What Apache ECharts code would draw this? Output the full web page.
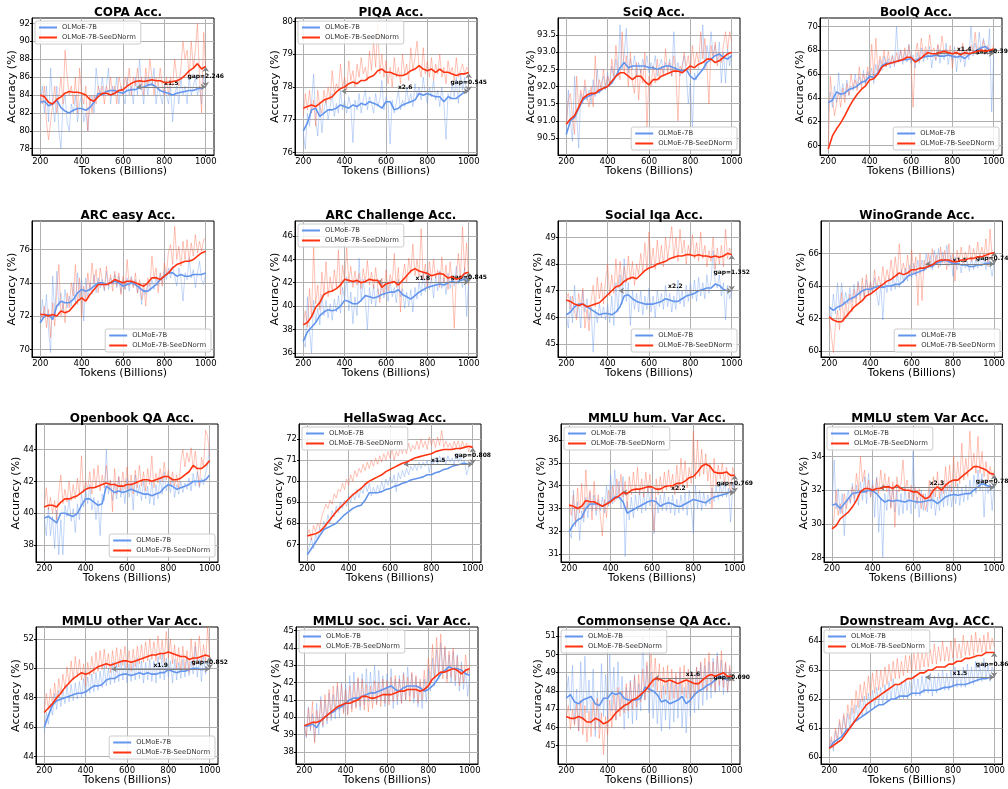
<!DOCTYPE html>
<html><head><meta charset="utf-8">
<script src="https://cdn.jsdelivr.net/npm/echarts@6/dist/echarts.min.js"></script>
<style>html,body{margin:0;padding:0;background:#fff}#c{width:1008px;height:789px}</style>
</head><body><div id="c"></div>
<script>
// ---------------- DATA ----------------
const tokensRaw = [200,210,220,230,240,250,260,270,280,290,300,310,320,330,340,350,360,370,380,390,400,410,420,430,440,450,460,470,480,490,500,510,520,530,540,550,560,570,580,590,600,610,620,630,640,650,660,670,680,690,700,710,720,730,740,750,760,770,780,790,800,810,820,830,840,850,860,870,880,890,900,910,920,930,940,950,960,970,980,990,1000];
const tokensSmooth = [200,220,240,260,280,300,320,340,360,380,400,420,440,460,480,500,520,540,560,580,600,620,640,660,680,700,720,740,760,780,800,820,840,860,880,900,920,940,960,980,1000];
const xTicks = [200,400,600,800,1000];

const titles = ['COPA Acc.','PIQA Acc.','SciQ Acc.','BoolQ Acc.','ARC easy Acc.','ARC Challenge Acc.','Social Iqa Acc.','WinoGrande Acc.','Openbook QA Acc.','HellaSwag Acc.','MMLU hum. Var Acc.','MMLU stem Var Acc.','MMLU other Var Acc.','MMLU soc. sci. Var Acc.','Commonsense QA Acc.','Downstream Avg. ACC.'];
const seriesNames = ['OLMoE-7B','OLMoE-7B-SeeDNorm'];

const copaBlueRaw = [83,85,82,85,81,87,83,81,85,80, 78,83,84,81,80,83,82,84,81,83, 84,81,82,80,83,84,82,87,85,84, 86,84,85,87,83,85,84,86,83,85, 84,83,86,84,85,83,86,84,88,85, 83,86,84,86,85,87,83,85,84,83, 85,84,83,85,81,84,85,83,86,84, 85,83,86,84,85,86,84,85,83,86, 85];
const copaRedRaw = [84,83,85,81,79,81,83,85,82,84, 86,83,89,86,84,85,83,86,82,87, 84,83,85,80,84,82,84,83,85,84, 85,83,85,84,86,84,85,83,86,85, 84,86,85,87,84,86,85,87,85,86, 84,87,85,88,86,84,86,85,87,85, 84,86,84,86,85,88,86,85,87,90, 88,89,86,90,87,89,92,86,82,91, 87];
const copaBlueSmooth = [83.2,83.3,82.8,83.0,83.4,82.6,82.2,82.0,82.3,82.5, 82.5,82.3,82.6,83.2,84.2,84.0,84.4,84.5,84.5,84.3, 84.2,84.5,84.6,84.6,84.8,84.9,85.1,85.2,84.9,84.5, 84.3,84.2,84.0,84.2,84.3,84.4,84.5,84.5,84.7,84.8, 84.9];
const copaRedSmooth = [84.0,83.8,83.2,83.0,83.5,83.8,84.2,84.4,84.3,84.3, 84.2,84.0,83.5,83.3,83.8,84.2,84.2,84.0,84.2,84.5, 84.6,85.0,85.3,85.5,85.6,85.5,85.6,85.7,85.6,85.6, 85.4,85.4,85.5,85.6,85.8,86.2,86.7,87.0,87.5,86.9, 87.2];

const piqaBlueRaw = [76.6,76.1,77.2,76.8,77.5,78.4,77.0,76.5,77.5,76.6, 77.3,77.6,77.0,77.4,77.8,77.1,77.5,77.2,77.9,77.3, 77.6,77.2,77.7,77.4,76.3,77.6,77.3,77.8,77.2,77.6, 77.9,77.3,77.7,77.5,77.2,77.8,77.4,77.6,78.2,77.3, 77.7,77.5,76.25,77.6,77.2,77.5,77.9,77.3,77.6,77.4, 78.0,77.5,77.8,77.4,78.1,77.7,78.0,77.6,78.3,77.8, 77.5,78.0,77.7,78.2,77.6,77.9,77.4,78.0,77.5,76.4, 77.8,77.6,78.1,77.7,78.3,77.5,78.4,77.9,78.3,77.8, 78.0];
const piqaRedRaw = [77.1,77.8,77.3,77.9,77.2,77.6,76.8,77.9,77.4,77.2, 77.9,77.5,78.0,77.6,78.5,77.8,78.1,77.9,78.7,78.0, 78.3,77.9,78.8,78.2,78.5,78.0,78.7,78.3,78.9,78.4, 78.6,78.2,79.1,78.5,79.4,78.6,79.9,78.4,79.0,78.3, 78.8,78.1,78.6,78.0,78.9,78.3,78.6,78.1,79.0,78.4, 78.7,78.2,79.2,78.5,78.9,79.4,78.6,78.3,79.2,78.4, 78.8,78.3,78.9,78.2,78.7,78.4,79.0,78.3,78.6,78.1, 78.8,78.4,78.6,78.2,78.9,78.3,78.5,78.7,78.4,78.6, 78.5];
const piqaBlueSmooth = [76.65,76.9,77.3,77.35,77.1,77.2,77.3,77.3,77.35,77.45, 77.4,77.35,77.45,77.4,77.5,77.45,77.55,77.5,77.45,77.35, 77.55,77.55,77.3,77.35,77.45,77.5,77.55,77.6,77.8,77.75, 77.8,77.75,77.7,77.7,77.55,77.7,77.65,77.65,77.75,77.85, 77.9];
const piqaRedSmooth = [77.35,77.4,77.45,77.4,77.5,77.6,77.65,77.7,77.85,77.95, 78.0,78.1,78.15,78.1,78.2,78.2,78.3,78.35,78.5,78.55, 78.45,78.45,78.4,78.35,78.35,78.4,78.5,78.55,78.65,78.55, 78.5,78.55,78.45,78.55,78.45,78.45,78.4,78.35,78.4,78.4, 78.45];

const sciqBlueRaw = [90.6,91.9,91.0,90.4,92.3,91.2,90.2,91.8,91.5,92.0, 91.6,91.9,91.5,92.2,91.7,92.5,91.8,92.1,92.3,91.9, 92.4,92.0,92.6,92.2,92.8,92.3,93.8,92.5,92.9,93.7, 92.4,92.8,92.5,92.9,92.3,92.7,92.4,92.8,92.5,92.9, 92.4,92.7,92.5,92.9,92.3,92.6,92.8,92.4,92.7,92.5, 92.8,92.3,93.6,92.4,92.7,92.3,92.6,92.9,92.4,91.5, 92.1,90.8,92.4,92.2,92.6,92.8,93.8,92.5,93.2,92.8, 93.6,92.9,93.2,92.7,93.3,92.1,93.0,92.1,93.1,92.6, 93.0];
const sciqRedRaw = [90.9,91.6,91.8,91.1,90.6,92.3,91.4,91.9,91.6,92.2, 91.7,91.4,92.0,91.4,92.9,91.8,92.2,91.9,92.5,92.0, 92.3,92.1,92.8,92.3,93.2,92.5,92.2,93.6,92.4,92.9, 92.0,93.0,92.1,91.8,92.7,91.6,92.5,92.1,93.0,90.8, 92.3,92.0,92.6,92.1,92.8,92.2,92.6,92.3,93.1,92.4, 92.7,92.3,92.9,92.4,91.0,92.6,92.5,93.0,92.6,92.9, 92.4,93.2,92.6,93.0,92.7,93.6,92.8,93.4,92.6,91.5, 93.2,92.8,93.3,92.6,93.0,92.7,93.2,93.6,93.1,93.6, 93.3];
const sciqBlueSmooth = [90.6,91.0,91.1,91.35,91.6,91.7,91.75,91.8,91.85,91.95, 92.0,92.1,92.3,92.55,92.7,92.55,92.6,92.6,92.6,92.6, 92.55,92.55,92.5,92.55,92.6,92.6,92.55,92.5,92.45,92.5, 92.3,92.2,92.35,92.5,92.7,92.8,92.9,92.95,92.85,92.8, 92.9];
const sciqRedSmooth = [90.9,91.05,91.15,91.4,91.65,91.75,91.8,91.8,91.9,91.95, 92.0,92.15,92.3,92.4,92.4,92.3,92.2,92.3,92.3,92.15, 92.05,92.2,92.2,92.3,92.35,92.4,92.45,92.45,92.4,92.5, 92.6,92.55,92.65,92.7,92.8,92.8,92.7,92.75,92.85,92.95, 93.0];

const boolqBlueRaw = [63.0,64.5,63.2,65.0,63.6,66.1,64.0,65.2,64.1,65.5, 64.2,65.0,64.6,66.0,64.8,65.8,65.1,66.3,65.0,66.2, 65.5,66.5,65.2,66.8,65.9,67.2,66.3,67.5,66.6,67.3, 66.5,67.6,66.6,70.0,67.0,68.0,66.8,67.9,67.0,68.5, 66.9,67.6,66.5,67.8,66.9,68.2,67.0,67.9,67.2,68.3, 66.5,67.8,67.1,68.4,66.9,68.0,67.2,68.6,66.8,67.9, 67.1,68.3,66.2,67.8,67.0,68.1,66.6,67.9,67.2,70.0, 67.5,68.6,67.6,69.5,67.8,69.0,68.2,67.6,69.8,62.8, 67.5];
const boolqRedRaw = [59.7,65.8,64.0,62.5,63.5,64.5,63.2,64.8,63.6,65.2, 64.2,66.0,64.8,65.5,64.6,66.6,64.8,66.0,65.2,66.6, 65.5,68.5,65.8,69.0,66.2,67.5,66.8,68.0,66.6,67.9, 66.9,67.5,66.8,67.8,67.0,68.0,67.1,68.2,67.2,68.4, 67.0,63.2,67.4,68.6,67.2,69.0,67.5,68.3,67.6,69.3, 67.8,68.2,67.2,68.5,67.6,69.2,67.8,68.1,67.5,68.4, 66.5,68.0,67.6,68.2,67.4,68.6,67.5,68.1,67.6,68.4, 67.7,69.5,67.8,68.3,67.9,68.8,67.9,68.4,68.1,67.8, 68.5];
const boolqBlueSmooth = [63.6,63.8,64.5,64.3,64.4,64.7,64.8,65.0,65.3,65.4, 65.8,65.7,66.1,66.7,66.9,66.9,67.0,67.1,67.2,67.2, 67.3,67.1,67.3,67.4,67.5,67.5,67.6,67.5,67.5,67.6, 67.5,67.4,67.5,67.3,67.6,67.8,68.0,68.2,68.3,68.0, 67.7];
const boolqRedSmooth = [59.7,60.8,61.4,61.9,62.5,63.2,63.8,64.3,64.7,65.0, 65.5,65.6,66.0,66.6,66.8,66.9,67.0,67.1,67.2,67.4, 67.4,67.0,67.2,67.5,67.8,67.7,67.7,67.8,67.9,67.8, 67.7,67.8,67.6,67.8,67.7,67.8,67.9,68.0,67.9,68.0, 68.1];

const arceBlueRaw = [71.6,73.0,71.9,73.3,71.2,69.8,74.4,72.0,74.7,72.6, 73.4,72.3,73.6,72.5,73.2,72.6,74.0,72.8,74.6,73.1, 74.2,71.7,74.3,73.1,74.0,73.3,74.5,73.4,74.3,73.7, 74.2,73.5,74.7,73.6,74.3,73.9,74.5,73.7,74.4,73.4, 74.2,73.6,74.3,73.5,74.4,73.8,74.2,73.4,73.9,72.7, 73.6,73.3,74.0,73.5,74.2,73.6,74.4,73.8,74.6,74.0, 74.7,74.2,74.9,74.3,75.0,74.4,73.8,74.9,74.3,72.9, 74.6,74.2,75.5,74.3,74.8,73.7,74.6,75.3,74.2,73.9, 74.6];
const arceRedRaw = [72.3,71.8,72.6,71.3,72.4,70.7,72.8,71.4,73.6,75.1, 72.0,72.8,71.6,73.4,72.5,74.0,73.2,75.1,72.7,74.3, 71.9,73.8,73.0,74.6,73.5,75.2,74.0,74.8,73.4,74.9, 74.1,73.6,75.0,73.8,74.5,73.5,74.7,73.8,74.6,73.3, 74.4,73.6,75.4,73.8,74.3,73.7,74.6,73.4,74.2,73.0, 74.0,72.6,74.3,73.8,75.6,74.3,74.9,73.4,74.6,73.8, 75.2,74.5,75.9,76.3,75.1,77.4,75.4,76.2,75.0,76.5, 75.4,76.6,75.3,76.4,75.6,76.9,75.8,76.5,75.9,76.6, 76.7];
const arceBlueSmooth = [71.6,72.0,72.1,71.8,72.6,72.9,72.8,72.8,73.0,73.4, 73.6,73.5,73.6,73.8,74.0,74.0,73.9,74.0,74.1,74.0, 73.8,73.9,74.0,73.9,73.7,73.5,73.5,73.7,73.9,74.2, 74.4,74.6,74.6,74.4,74.5,74.4,74.4,74.5,74.5,74.5, 74.6];
const arceRedSmooth = [72.1,72.1,72.0,72.1,72.0,72.3,72.2,72.3,72.6,72.9, 73.1,72.9,73.3,73.6,73.9,73.9,73.9,74.0,74.2,74.1, 74.0,74.1,74.1,74.0,73.9,73.8,74.0,74.3,74.3,74.2, 74.4,74.6,74.9,75.1,75.2,75.3,75.3,75.4,75.6,75.8, 75.9];

const arccBlueRaw = [37.0,36.5,40.8,38.0,36.0,40.5,38.6,39.8,38.4,41.0, 39.2,40.5,39.0,40.2,38.8,40.6,39.5,40.9,39.4,41.6, 40.6,42.5,39.6,41.2,38.5,40.8,39.2,44.1,40.4,42.3, 40.5,38.0,41.6,40.2,41.8,40.0,41.5,40.6,42.0,40.7, 41.8,40.4,42.2,40.8,41.6,40.3,42.3,40.8,41.5,39.8, 41.2,40.0,41.4,39.5,41.6,40.6,42.1,40.9,42.8,41.2, 43.0,41.4,42.4,40.7,42.6,41.3,43.0,41.5,42.4,41.0, 42.8,41.5,42.6,41.7,43.4,41.9,42.5,41.6,43.3,39.1, 42.4];
const arccRedRaw = [38.4,39.6,38.2,41.5,39.0,45.1,40.2,41.8,39.7,42.9, 41.0,43.8,40.8,42.5,41.2,43.1,41.6,44.8,41.0,43.5, 42.2,45.0,42.0,43.4,41.6,43.0,41.8,42.8,41.5,43.2, 42.0,43.9,41.8,42.9,41.5,43.3,41.7,40.3,42.4,41.0, 43.1,41.3,42.7,41.9,44.5,41.6,43.3,39.5,42.4,43.6, 42.0,44.1,42.8,45.3,42.6,44.0,42.5,46.6,42.3,43.6, 41.5,43.8,42.2,44.0,42.4,43.1,41.6,44.2,42.0,43.5, 41.4,43.8,42.0,38.1,42.6,44.5,42.3,46.8,43.0,45.4, 41.8];
const arccBlueSmooth = [37.0,37.8,38.2,38.6,39.2,39.5,39.7,39.6,39.7,40.0, 40.5,40.4,40.2,40.2,40.5,40.9,40.8,40.7,40.8,41.0, 41.1,41.2,41.2,41.4,41.0,40.8,40.6,40.9,41.2,41.4, 41.6,41.7,41.8,41.9,41.8,42.0,42.1,42.0,42.2,42.3, 42.1];
const arccRedSmooth = [38.4,38.6,39.1,39.9,40.3,41.0,41.2,41.3,41.5,41.8, 42.3,42.2,42.1,42.2,42.0,42.1,42.3,42.2,42.2,41.6, 41.9,42.0,42.1,41.8,42.2,42.6,43.0,43.2,43.0,42.9, 42.8,42.6,42.7,42.8,42.7,42.4,42.5,42.3,42.4,42.8, 42.9];

const siqaBlueRaw = [46.1,45.6,46.8,45.8,47.2,46.0,46.5,45.6,47.0,46.2, 46.7,45.9,46.4,44.7,46.3,45.8,46.5,46.0,46.4,45.9, 46.5,45.8,46.8,45.7,47.3,46.2,47.6,46.5,48.2,46.6, 47.3,45.7,47.0,46.3,46.9,46.2,47.0,46.1,46.8,46.3, 47.1,46.2,46.8,46.0,47.0,46.4,46.9,46.3,47.2,46.4, 46.9,46.2,46.8,46.3,47.4,46.5,47.0,46.4,47.2,46.6, 47.3,46.7,47.4,46.6,47.5,46.8,47.3,46.7,47.6,46.9, 47.4,48.5,47.3,47.1,47.6,46.8,47.3,45.9,47.2,46.7, 47.0];
const siqaRedRaw = [46.7,46.9,46.3,46.8,46.2,45.9,46.9,46.4,47.1,45.6, 46.3,45.5,46.6,47.2,46.4,47.5,46.7,47.3,46.5,47.4, 48.0,46.8,47.6,46.9,48.2,47.1,48.1,47.2,47.9,47.3, 48.3,47.4,48.1,47.2,48.0,47.6,48.4,47.7,48.8,47.8, 49.2,47.9,48.6,47.8,48.9,48.0,48.7,47.9,49.0,48.2, 48.8,49.4,48.2,49.0,48.1,49.3,48.4,48.9,48.0,48.7, 48.3,49.1,48.2,48.8,48.1,49.2,48.2,48.7,47.9,48.5, 48.1,49.0,47.8,48.6,48.0,48.7,47.9,49.3,48.2,48.6, 48.3];
const siqaBlueSmooth = [46.1,46.2,46.4,46.5,46.5,46.4,46.3,46.2,46.1,46.15, 46.15,46.1,46.2,46.4,46.8,46.85,46.7,46.6,46.55,46.5, 46.5,46.5,46.55,46.6,46.7,46.65,46.6,46.6,46.7,46.8, 46.85,46.9,47.0,47.05,47.1,47.1,47.25,47.2,47.05,47.0, 47.0];
const siqaRedSmooth = [46.65,46.6,46.5,46.45,46.5,46.4,46.45,46.5,46.55,46.7, 46.85,47.0,47.15,47.2,47.35,47.45,47.5,47.45,47.6,47.75, 47.85,47.9,48.0,48.05,48.1,48.2,48.25,48.3,48.3,48.35, 48.35,48.3,48.35,48.3,48.3,48.25,48.3,48.25,48.3,48.4, 48.35];

const winoBlueRaw = [62.7,61.9,63.5,62.3,64.2,62.5,64.2,62.8,63.6,62.9, 63.9,63.0,64.1,63.2,64.3,63.4,64.0,63.3,64.4,63.5, 64.2,63.6,64.5,63.5,62.8,64.1,61.9,64.2,63.6,64.5, 63.7,64.6,63.8,64.8,63.9,65.0,64.2,65.1,64.3,65.3, 64.5,65.4,64.6,65.6,64.8,65.6,64.9,66.0,65.1,65.9, 65.0,66.2,65.3,66.3,65.2,66.1,65.4,66.5,65.2,65.9, 64.6,65.8,65.0,65.6,64.8,65.7,65.1,65.5,64.9,65.8, 65.0,65.6,65.1,65.9,65.2,65.7,65.0,65.8,65.3,64.6, 65.4];
const winoRedRaw = [62.1,61.0,59.9,61.6,62.5,61.3,63.6,61.8,63.0,62.1, 63.5,62.4,63.8,62.8,64.2,63.0,64.5,63.3,64.7,63.5, 64.3,63.6,65.0,63.8,64.6,64.0,65.2,64.1,65.0,64.4, 65.6,64.5,65.8,64.6,66.6,64.8,65.4,64.7,65.9,64.6, 66.2,64.8,65.8,62.8,66.0,63.1,65.6,65.0,66.0,65.2, 66.3,65.3,65.9,65.1,66.4,65.4,66.2,65.0,66.6,65.3, 66.0,64.3,66.2,65.5,66.4,65.4,66.1,65.6,66.5,65.5, 66.3,65.6,66.7,65.7,66.4,65.8,66.9,65.2,67.5,65.8, 66.1];
const winoBlueSmooth = [62.7,62.5,62.7,62.8,63.0,63.2,63.3,63.5,63.7,63.8, 63.8,63.9,64.0,63.9,64.0,64.0,64.1,64.1,64.3,64.6, 64.7,64.8,64.9,65.0,65.2,65.2,65.4,65.5,65.6,65.5, 65.4,65.4,65.3,65.3,65.2,65.2,65.3,65.3,65.4,65.4, 65.35];
const winoRedSmooth = [62.1,61.9,61.8,61.8,62.1,62.4,62.7,62.9,63.1,63.4, 63.5,63.7,63.9,64.1,64.3,64.4,64.6,64.8,64.7,64.8, 65.0,65.0,65.1,65.1,65.2,65.3,65.5,65.6,65.6,65.6, 65.5,65.5,65.6,65.6,65.7,65.7,65.8,65.8,65.9,66.0, 66.05];

const obqaBlueRaw = [39.7,38.6,40.4,38.6,39.8,37.8,40.2,37.4,39.6,37.4, 40.5,39.8,40.9,39.5,40.3,38.8,40.6,39.6,41.2,40.4, 41.5,40.6,41.8,40.2,41.0,39.6,40.8,38.6,41.2,40.8, 44.0,41.2,42.0,40.8,41.9,40.9,42.3,41.0,41.8,40.6, 42.2,41.0,41.9,40.2,42.4,41.1,41.8,40.8,42.0,40.9, 41.7,40.6,42.0,40.5,41.8,40.9,42.3,41.2,42.6,41.4, 42.0,41.3,42.2,41.0,41.8,41.2,42.0,41.3,41.9,41.5, 42.2,41.4,42.5,41.7,42.6,41.6,42.2,41.8,42.5,43.1, 44.2];
const obqaRedRaw = [40.4,41.6,40.2,41.0,40.0,40.8,39.6,41.3,42.4,40.6, 41.5,40.7,42.0,40.8,41.8,40.9,42.2,41.2,43.6,41.3, 42.0,41.5,42.6,41.2,42.8,41.6,43.0,41.4,42.4,41.6, 43.0,41.5,42.1,40.1,42.8,41.2,42.3,41.4,42.6,41.5, 42.9,41.5,42.4,41.2,42.7,41.6,43.0,41.7,42.6,41.4, 42.8,41.8,43.6,41.6,42.5,41.9,42.8,42.0,43.2,42.1, 42.7,41.8,42.6,41.7,42.4,41.5,43.2,44.0,42.9,43.8, 43.2,44.1,42.8,43.9,42.7,41.7,43.5,42.9,45.2,44.8, 43.6];
const obqaBlueSmooth = [39.7,39.8,39.6,39.4,40.0,40.0,39.9,39.8,40.0,40.5, 40.9,40.9,40.7,40.5,40.6,41.7,41.5,41.3,41.4,41.3, 41.4,41.5,41.4,41.3,41.2,41.2,41.1,41.2,41.3,41.6, 41.8,41.7,41.5,41.6,41.7,41.8,42.0,42.0,42.0,42.1, 42.4];
const obqaRedSmooth = [40.4,40.5,40.5,40.4,40.7,40.9,40.9,41.0,41.1,41.3, 41.5,41.6,41.6,41.7,41.8,41.9,41.8,41.8,41.7,41.7, 41.8,41.8,41.9,42.0,42.1,42.1,42.0,42.1,42.2,42.3, 42.3,42.1,42.1,42.2,42.4,42.6,43.0,42.8,42.8,43.0, 43.3];

const hellaBlueRaw = [66.6,66.9,67.3,66.8,67.5,67.2,67.8,67.5,68.1,67.8, 68.4,68.0,68.6,68.3,68.8,68.5,69.0,68.7,69.1,68.8, 69.3,69.0,69.4,69.1,69.6,69.2,69.7,69.4,69.9,69.5, 69.9,69.3,69.7,69.4,69.8,69.5,70.0,69.6,70.1,69.8, 70.2,69.9,70.3,69.5,70.4,70.1,70.5,70.2,70.6,70.3, 70.7,70.5,70.8,70.5,70.9,70.6,70.9,70.7,71.0,70.4, 71.0,70.8,71.1,70.8,71.2,70.9,71.1,70.8,71.2,70.9, 71.1,70.8,71.3,70.9,71.2,70.8,71.0,70.3,70.6,70.9, 70.8];
const hellaRedRaw = [67.5,67.7,67.2,67.9,67.6,68.0,67.8,68.3,68.6,68.9, 68.7,69.1,68.9,69.4,69.2,69.6,69.5,69.9,69.6,70.1, 69.8,70.3,70.0,70.5,70.2,70.6,70.4,70.8,70.5,70.9, 70.6,71.0,70.7,71.1,70.8,71.2,70.9,71.3,71.0,71.4, 71.1,71.5,71.0,71.4,71.2,71.6,71.3,71.7,71.3,71.8, 71.4,71.7,71.5,71.9,71.5,72.0,71.6,71.9,71.5,72.1, 71.7,72.0,71.6,72.1,71.7,72.4,71.6,71.9,71.6,71.8, 71.5,71.9,71.6,71.9,71.5,71.9,71.6,71.8,71.4,71.7, 71.6];
const hellaBlueSmooth = [66.5,66.8,67.1,67.4,67.7,67.8,67.9,68.0,68.2,68.4, 68.55,68.7,68.8,68.85,69.1,69.45,69.45,69.45,69.5,69.6, 69.65,69.75,69.8,69.9,69.95,70.05,70.1,70.15,70.2,70.3, 70.3,70.4,70.45,70.55,70.6,70.7,70.75,70.8,70.85,70.8, 70.8];
const hellaRedSmooth = [67.4,67.45,67.5,67.6,67.8,68.05,68.3,68.55,68.75,68.95, 69.15,69.35,69.5,69.65,69.85,70.0,70.1,70.2,70.3,70.45, 70.55,70.65,70.75,70.85,70.9,71.0,71.1,71.15,71.2,71.25, 71.3,71.4,71.45,71.5,71.5,71.5,71.55,71.55,71.6,71.65, 71.6];

const humBlueRaw = [32.0,31.7,33.8,32.2,33.3,31.6,32.9,32.4,33.5,32.6, 33.7,32.9,33.6,32.7,33.4,32.9,33.5,32.8,34.0,33.1, 34.5,33.2,34.7,33.4,34.2,33.0,34.4,30.9,33.3,32.5, 33.5,32.6,33.6,32.9,33.8,32.8,33.7,32.9,34.0,33.1, 33.9,31.9,33.5,32.8,33.6,32.9,33.7,32.9,33.5,32.8, 33.6,32.7,33.4,32.8,33.6,32.9,33.7,32.7,33.8,33.0, 31.9,34.0,33.0,33.8,32.9,33.7,33.1,33.6,33.2,33.9, 33.3,34.0,33.4,34.1,33.5,34.2,33.5,33.9,32.4,34.1, 33.8];
const humRedRaw = [33.2,32.7,33.6,32.3,33.9,32.8,34.1,32.6,34.7,33.0, 33.8,32.5,34.2,32.9,33.6,32.7,31.8,33.4,32.6,33.8, 33.2,34.0,33.3,34.3,33.6,34.5,33.5,34.2,33.0,34.4, 33.6,34.6,33.7,34.8,33.6,34.3,33.5,34.6,33.7,34.5, 33.0,32.0,34.3,33.6,34.4,33.7,34.6,33.8,34.7,33.9, 34.5,33.6,34.9,33.8,35.2,34.0,35.1,33.9,34.8,34.1, 36.4,34.3,36.0,34.4,35.6,34.5,35.4,34.2,35.0,33.0, 35.2,34.0,34.9,34.3,35.0,34.1,34.8,34.3,33.6,34.8, 34.5];
const humBlueSmooth = [32.0,32.3,32.5,32.6,33.0,33.2,33.2,33.2,33.1,33.2, 33.35,33.5,33.5,33.3,32.8,32.9,33.0,33.1,33.2,33.3, 33.35,33.3,33.1,33.2,33.25,33.2,33.1,33.1,33.2,33.3, 33.4,33.35,33.3,33.25,33.4,33.5,33.55,33.6,33.65,33.75, 33.7];
const humRedSmooth = [33.15,33.1,33.0,33.1,33.35,33.3,33.3,33.2,33.1,33.2, 33.3,33.45,33.55,33.7,33.65,33.8,33.85,33.85,33.9,33.95, 33.95,33.85,33.85,33.95,34.0,34.0,34.1,34.1,34.2,34.35, 34.4,34.6,34.85,34.95,34.85,34.6,34.55,34.55,34.6,34.45, 34.45];

const stemBlueRaw = [31.1,33.8,30.9,32.1,30.6,31.8,29.3,31.4,32.0,31.2, 32.4,31.3,32.3,31.1,32.5,31.4,32.8,31.2,33.0,31.6, 32.6,30.4,32.8,29.5,31.6,28.0,31.8,30.8,32.3,31.0, 32.2,30.7,32.0,30.5,31.8,30.6,32.2,30.8,31.9,30.6, 34.3,30.9,31.6,30.4,32.0,30.8,31.8,30.7,32.1,30.9, 31.9,30.5,31.6,30.8,32.1,31.0,32.4,31.1,32.3,31.0, 32.2,31.2,32.4,31.1,32.2,31.3,32.3,31.4,32.6,31.6, 32.9,31.8,33.2,32.0,33.0,30.4,32.6,31.8,32.4,30.8, 32.3];
const stemRedRaw = [29.7,30.4,32.0,30.5,31.2,30.6,31.8,30.9,31.6,31.3, 32.2,31.5,33.0,32.0,34.0,32.5,33.2,31.8,32.6,31.6, 32.3,31.9,32.7,31.8,33.2,32.0,33.0,31.9,32.8,30.9, 32.5,29.8,32.8,31.9,32.4,33.8,32.0,32.6,31.5,32.3, 31.4,32.2,31.2,32.1,30.9,31.8,30.8,31.2,32.6,31.4, 32.8,31.6,33.1,31.5,32.6,31.8,33.4,32.0,33.5,31.9, 34.0,32.2,33.7,32.4,34.8,32.6,33.9,32.8,35.5,33.2, 34.2,33.0,35.2,33.0,34.3,32.8,33.7,32.6,33.4,32.8, 33.2];
const stemBlueSmooth = [31.1,31.2,30.9,31.2,31.5,31.8,31.85,31.9,31.9,32.0, 31.95,31.8,31.5,31.3,31.4,31.35,31.4,31.35,31.3,31.4, 31.35,31.3,31.3,31.35,31.4,31.4,31.2,31.4,31.6,31.7, 31.75,31.7,31.75,31.8,31.8,32.0,32.2,32.4,32.3,32.2, 32.2];
const stemRedSmooth = [29.7,29.9,30.3,30.5,30.7,31.0,31.4,31.9,32.1,32.1, 32.0,32.1,32.1,32.2,32.2,32.1,32.3,32.1,32.0,32.0, 31.9,31.9,31.7,31.5,31.6,32.0,32.2,32.0,32.3,32.5, 32.6,32.6,32.8,33.0,33.2,33.4,33.4,33.3,33.2,33.0, 32.95];

const otherBlueRaw = [45.6,47.0,46.2,47.6,46.8,48.3,47.2,48.5,47.4,48.6, 47.6,48.8,47.7,48.9,47.8,49.0,47.9,49.1,48.0,49.3, 48.1,49.4,48.3,49.6,48.4,49.7,48.5,49.8,48.7,50.2, 48.8,50.0,48.9,50.4,49.0,50.3,49.1,50.6,49.2,50.5, 49.0,50.3,49.1,50.4,49.2,50.7,49.3,50.5,49.0,50.4, 49.2,50.6,49.1,50.5,49.0,50.8,49.3,51.0,49.2,50.7, 49.4,50.5,49.0,50.6,49.2,50.4,49.3,50.6,49.4,50.8, 49.5,50.5,49.6,51.5,49.4,50.6,49.1,50.8,49.6,50.4, 50.2];
const otherRedRaw = [47.0,48.3,47.2,48.6,47.5,49.0,47.8,49.3,48.2,49.6, 48.6,50.1,48.9,50.5,49.2,50.8,49.4,50.6,49.2,50.3, 48.8,50.4,49.5,50.8,49.6,51.1,49.8,51.2,49.9,51.3, 50.0,51.0,49.7,51.2,50.0,51.4,50.1,51.3,50.2,51.5, 50.0,51.2,49.8,51.3,50.1,51.5,50.3,51.6,50.4,51.8, 50.5,52.0,50.6,51.8,50.5,52.2,50.6,51.9,50.4,52.5, 50.7,52.0,50.3,51.6,50.0,51.4,49.8,51.5,49.9,51.2, 49.7,52.0,50.2,51.8,50.3,52.2,50.4,51.6,50.5,52.8, 50.6];
const otherBlueSmooth = [46.0,46.8,47.5,47.8,47.9,48.0,48.1,48.2,48.3,48.3, 48.4,48.6,48.8,48.8,48.9,49.2,49.3,49.3,49.5,49.6, 49.6,49.5,49.6,49.7,49.6,49.7,49.6,49.6,49.7,49.7, 49.9,49.8,49.7,49.8,49.8,49.9,50.0,50.0,49.9,49.95, 49.95];
const otherRedSmooth = [47.0,47.3,47.6,48.0,48.3,48.7,49.0,49.3,49.5,49.7, 49.6,49.7,49.9,50.1,50.2,50.3,50.2,50.3,50.4,50.5, 50.5,50.4,50.5,50.6,50.7,50.8,50.9,50.9,51.0,51.0, 51.1,51.0,50.9,50.8,50.8,50.6,50.7,50.7,50.8,50.9, 50.8];

const socBlueRaw = [39.5,38.8,40.6,39.2,40.2,38.6,40.8,39.0,41.2,39.4, 41.0,39.6,41.4,39.8,41.3,39.9,41.8,40.0,42.0,40.3, 41.9,40.2,42.4,40.5,42.6,40.6,42.2,40.4,42.5,40.7, 42.8,40.9,42.6,41.0,43.0,40.8,42.7,41.0,42.4,40.6, 42.5,40.9,42.8,40.5,42.2,40.7,42.4,40.8,42.6,41.0, 42.9,41.2,42.5,40.8,42.3,40.6,42.0,40.5,42.2,40.9, 42.8,41.5,43.4,41.8,43.9,42.2,44.3,42.5,44.0,42.2, 43.6,42.0,43.8,41.8,43.6,41.5,43.2,41.6,42.8,41.2, 42.6];
const socRedRaw = [39.6,38.9,40.5,39.3,40.9,38.5,40.4,39.6,41.0,39.5, 41.3,39.8,41.6,40.0,41.8,40.3,42.0,40.4,41.9,40.2, 41.6,40.1,41.8,40.3,42.0,40.5,42.3,40.6,42.2,40.4, 41.9,40.3,41.8,40.5,42.1,40.7,42.0,40.6,42.2,40.8, 42.1,40.7,42.3,40.9,42.4,41.0,42.2,40.8,42.5,41.0, 42.3,40.9,42.6,41.1,42.4,40.8,42.2,41.0,42.7,41.5, 43.4,42.0,44.2,42.3,44.6,42.5,44.8,42.2,44.1,42.0, 43.8,42.3,44.0,42.1,43.5,41.8,43.0,42.0,43.6,42.5, 43.0];
const socBlueSmooth = [39.5,39.5,39.6,39.4,39.8,40.0,40.2,40.3,40.5,40.6, 40.8,41.0,41.1,41.1,41.2,41.3,41.4,41.4,41.5,41.6, 41.7,41.8,41.6,41.5,41.7,41.8,41.8,41.8,41.7,41.5, 41.6,41.8,42.1,42.5,42.7,42.9,42.8,42.8,42.7,42.5, 42.4];
const socRedSmooth = [39.5,39.6,39.7,39.7,39.8,40.0,40.2,40.4,40.6,40.7, 40.8,40.8,40.9,41.0,41.2,41.2,41.1,41.1,41.2,41.3, 41.3,41.3,41.4,41.5,41.5,41.6,41.6,41.6,41.5,41.6, 41.8,42.2,42.4,42.6,42.6,42.7,42.8,42.7,42.5,42.7, 42.8];

const csqaBlueRaw = [47.6,48.8,46.9,49.4,46.2,48.1,45.8,49.6,46.4,49.9, 46.8,48.6,46.2,49.2,45.5,48.0,46.0,49.5,46.6,48.9, 46.5,50.0,46.9,49.3,46.4,49.6,47.0,48.8,45.9,48.2, 46.5,48.6,46.2,48.9,46.4,48.4,46.9,51.0,47.5,49.4, 46.8,49.0,46.5,48.7,46.2,48.0,45.8,48.3,46.4,48.5, 45.9,48.6,46.3,48.8,46.5,49.0,46.0,48.2,45.7,48.5, 46.6,48.9,46.8,49.3,47.0,49.5,47.2,49.4,47.5,49.6, 47.6,49.8,47.9,50.1,48.0,49.7,47.8,49.5,47.9,49.2, 48.6];
const csqaRedRaw = [46.6,47.2,45.9,47.0,46.1,47.3,45.8,47.5,45.6,47.2, 45.2,46.9,45.5,47.4,45.9,47.6,45.4,46.8,44.5,46.6, 45.6,47.5,46.0,47.8,46.4,48.2,46.6,48.0,46.8,48.4, 46.9,48.5,47.0,48.8,47.1,48.9,47.4,49.2,47.5,49.6, 47.9,50.0,48.2,49.8,48.0,49.5,47.6,49.3,47.8,49.4, 47.5,49.2,47.6,49.0,47.5,49.3,47.8,49.4,47.6,49.2, 47.4,49.0,47.7,49.3,47.9,49.6,48.1,49.8,48.0,50.1, 48.2,49.6,48.0,49.9,48.3,50.2,48.2,49.6,48.0,49.4, 48.5];
const csqaBlueSmooth = [47.6,47.8,47.4,47.3,47.5,47.6,47.7,47.3,47.2,47.6, 47.6,47.9,47.8,47.9,47.6,47.5,47.5,47.5,47.6,48.2, 48.1,48.0,47.8,47.4,47.5,47.3,47.4,47.5,47.7,47.3, 47.5,47.8,48.0,48.1,48.3,48.4,48.6,48.8,48.7,48.6, 48.7];
const csqaRedSmooth = [46.6,46.5,46.5,46.6,46.5,46.3,46.3,46.5,46.4,46.2, 46.3,46.5,46.8,47.0,47.2,47.3,47.5,47.6,47.8,48.0, 48.3,48.6,48.7,48.6,48.5,48.6,48.5,48.4,48.5,48.6, 48.5,48.4,48.4,48.6,48.8,48.9,48.8,48.9,49.0,48.8, 48.8];

const avgBlueRaw = [60.3,60.6,60.2,60.9,60.5,61.2,60.7,61.4,60.9,61.5, 61.0,61.7,61.2,61.8,61.3,62.0,61.4,62.1,61.5,62.2, 61.6,62.3,61.7,62.4,61.8,62.4,61.8,62.5,61.9,62.6, 62.0,62.7,62.0,62.5,62.0,62.6,62.0,62.7,62.0,62.6, 62.1,62.8,62.1,62.7,62.1,62.8,62.2,62.8,62.2,62.9, 62.1,62.8,62.2,62.9,62.3,63.0,62.3,62.9,62.3,63.0, 62.4,63.1,62.4,63.0,62.4,63.1,62.4,63.2,62.5,63.1, 62.5,63.3,62.6,63.2,62.6,63.4,62.7,63.2,62.6,63.1, 62.9];
const avgRedRaw = [60.3,60.7,60.3,61.0,60.6,61.3,60.8,61.5,61.0,61.8, 61.3,62.0,61.5,62.3,61.7,62.5,61.9,62.6,62.0,62.8, 62.1,62.9,62.2,63.0,62.3,63.0,62.4,63.1,62.5,63.2, 62.6,63.3,62.7,63.4,62.7,63.3,62.8,63.5,62.9,63.5, 62.9,63.6,63.0,63.7,63.0,63.6,63.1,63.8,63.1,63.7, 63.2,63.9,63.2,63.8,63.3,64.0,63.3,63.8,63.3,64.0, 63.4,64.1,63.4,63.9,63.4,64.2,63.5,64.0,63.5,64.2, 63.5,64.3,63.6,64.1,63.6,64.2,63.6,64.3,63.7,64.1, 63.8];
const avgBlueSmooth = [60.3,60.5,60.6,60.7,60.9,61.0,61.2,61.3,61.4,61.5, 61.6,61.7,61.8,61.8,61.9,62.0,62.0,62.1,62.1,62.1, 62.2,62.2,62.2,62.3,62.3,62.3,62.3,62.35,62.4,62.4, 62.45,62.5,62.5,62.5,62.55,62.6,62.65,62.7,62.7,62.75, 62.75];
const avgRedSmooth = [60.3,60.4,60.5,60.6,60.8,61.0,61.2,61.4,61.6,61.8, 61.9,62.0,62.1,62.2,62.3,62.4,62.5,62.5,62.6,62.7, 62.7,62.8,62.9,62.9,63.0,63.0,63.1,63.1,63.1,63.2, 63.2,63.3,63.3,63.4,63.4,63.45,63.5,63.5,63.6,63.6, 63.6];

// y-axis tick labels per panel
const yTickLists = [[78,80,82,84,86,88,90,92],[76,77,78,79,80],[90.5,91.0,91.5,92.0,92.5,93.0,93.5],[60,62,64,66,68,70],[70,72,74,76],[36,38,40,42,44,46],[45,46,47,48,49],[60,62,64,66],[38,40,42,44],[67,68,69,70,71,72],[31,32,33,34,35,36],[28,30,32,34],[44,46,48,50,52],[38,39,40,41,42,43,44,45],[45,46,47,48,49,50,51],[60,61,62,63,64]];

// gap annotations: [start token, OLMoE-7B level, SeeDNorm level, ratio text, gap text]
const gapNotes = [[667,84.9,87.15,'x1.5','gap=2.246'],[385,77.87,78.42,'x2.6','gap=0.545'],null,[714,67.7,68.09,'x1.4','gap=0.390'],null,[556,42.05,42.9,'x1.8','gap=0.845'],[455,47.0,48.35,'x2.2','gap=1.352'],[667,65.35,66.1,'x1.5','gap=0.746'],null,[667,70.8,71.6,'x1.5','gap=0.808'],[455,33.7,34.47,'x2.2','gap=0.769'],[435,32.15,32.93,'x2.3','gap=0.781'],[526,49.95,50.8,'x1.9','gap=0.852'],null,[625,48.7,48.79,'x1.6','gap=0.090'],[667,62.75,63.61,'x1.5','gap=0.862']];

const panelData = [
  [copaBlueRaw,copaRedRaw,copaBlueSmooth,copaRedSmooth],
  [piqaBlueRaw,piqaRedRaw,piqaBlueSmooth,piqaRedSmooth],
  [sciqBlueRaw,sciqRedRaw,sciqBlueSmooth,sciqRedSmooth],
  [boolqBlueRaw,boolqRedRaw,boolqBlueSmooth,boolqRedSmooth],
  [arceBlueRaw,arceRedRaw,arceBlueSmooth,arceRedSmooth],
  [arccBlueRaw,arccRedRaw,arccBlueSmooth,arccRedSmooth],
  [siqaBlueRaw,siqaRedRaw,siqaBlueSmooth,siqaRedSmooth],
  [winoBlueRaw,winoRedRaw,winoBlueSmooth,winoRedSmooth],
  [obqaBlueRaw,obqaRedRaw,obqaBlueSmooth,obqaRedSmooth],
  [hellaBlueRaw,hellaRedRaw,hellaBlueSmooth,hellaRedSmooth],
  [humBlueRaw,humRedRaw,humBlueSmooth,humRedSmooth],
  [stemBlueRaw,stemRedRaw,stemBlueSmooth,stemRedSmooth],
  [otherBlueRaw,otherRedRaw,otherBlueSmooth,otherRedSmooth],
  [socBlueRaw,socRedRaw,socBlueSmooth,socRedSmooth],
  [csqaBlueRaw,csqaRedRaw,csqaBlueSmooth,csqaRedSmooth],
  [avgBlueRaw,avgRedRaw,avgBlueSmooth,avgRedSmooth]
];

// ---------------- LAYOUT / STYLE ----------------
const yRanges = [[77.3,92.6],[75.92,80.11],[90.0,94.0],[59.2,70.7],[69.54,77.72],[35.66,47.27],[44.52,49.61],[59.63,68.0],[36.95,45.59],[66.16,72.71],[30.66,36.70],[27.74,35.93],[43.5,52.8],[37.3,45.2],[44.0,51.5],[59.76,64.48]];
const yDecimals = [0,0,1,0,0,0,0,0,0,0,0,0,0,0,0,0];
const legendCorner = ['tl','tl','br','br','br','tl','br','br','br','tl','tl','tl','br','tl','tl','tl'];
const colLefts = [[32,295,558,820],[32,295,558,821],[36,299,561,824],[36,296,558,821]];
const rowTops = [18,221,424,627];
const rowHeights = [137,136,138,137];
const PW = 182;
const FONT = 'DejaVu Sans';
const BLUE = '#6495ED', RED = '#FF3311';
const BLUE_RAW = 'rgba(100,149,237,0.38)', RED_RAW = 'rgba(255,90,55,0.36)';
const GRIDC = '#b0b0b0';

const option = {animation:false, backgroundColor:'#fff', textStyle:{fontFamily:FONT},
  title:[], grid:[], xAxis:[], yAxis:[], legend:[], series:[]};

const pairs = (xs, ys) => xs.map((x,j)=>[x, ys[j]]);

for (let i=0;i<16;i++){
  const r=Math.floor(i/4), c=i%4;
  const L=colLefts[r][c], T=rowTops[r], H=rowHeights[r];
  const yt = yTickLists[i];
  const dec = yDecimals[i];
  option.grid.push({left:L, top:T, width:PW, height:H, show:true, borderColor:'#000', borderWidth:1, backgroundColor:'rgba(0,0,0,0)'});
  option.title.push({text:titles[i], left:L+PW/2, top:T-16, textAlign:'center',
    textStyle:{fontSize:12, fontWeight:'bold', color:'#000', fontFamily:FONT}});
  option.xAxis.push({gridIndex:i, type:'value', min:160, max:1040,
    splitLine:{show:true, lineStyle:{color:GRIDC, width:1, type:'solid'}},
    axisLine:{show:true, onZero:false, lineStyle:{color:'#000', width:1}},
    axisTick:{show:true, customValues:xTicks, length:2, lineStyle:{color:'#000'}},
    axisLabel:{customValues:xTicks, fontSize:8.5, color:'#000', margin:2, fontFamily:FONT,
      formatter:(v)=>String(Math.round(v))},
    name:'Tokens (Billions)', nameLocation:'middle', nameGap:11, nameMoveOverlap:false,
    nameTextStyle:{fontSize:11, color:'#000', fontFamily:FONT, verticalAlign:'top'}});
  option.yAxis.push({gridIndex:i, type:'value', min:yRanges[i][0], max:yRanges[i][1],
    splitLine:{show:true, lineStyle:{color:GRIDC, width:1, type:'solid'}},
    axisLine:{show:true, onZero:false, lineStyle:{color:'#000', width:1}},
    axisTick:{show:true, customValues:yt, length:2, lineStyle:{color:'#000'}},
    axisLabel:{customValues:yt, fontSize:8.5, color:'#000', margin:2, fontFamily:FONT,
      formatter:(v)=>Number(v).toFixed(dec)},
    name:'Accuracy (%)', nameLocation:'middle', nameGap: dec ? 21 : 14, nameMoveOverlap:false,
    nameTextStyle:{fontSize:11, color:'#000', fontFamily:FONT}});

  const lg = {data:seriesNames, orient:'vertical', icon:'rect', itemWidth:18, itemHeight:2, itemGap:3,
    textStyle:{fontSize:6.8, color:'#333', fontFamily:FONT}, borderColor:'#cccccc', borderWidth:1, borderRadius:2,
    padding:[3,5,3,4], backgroundColor:'rgba(255,255,255,0.85)', selectedMode:false, z:10};
  if (legendCorner[i]==='tl'){ lg.left=L+3; lg.top=T+3; }
  else { lg.right=1008-(L+PW)+3; lg.bottom=789-(T+H)+5; }
  option.legend.push(lg);

  const [bRaw, rRaw, bSm, rSm] = panelData[i];
  option.series.push({name:'OLMoE-7B raw', type:'line', xAxisIndex:i, yAxisIndex:i, data:pairs(tokensRaw,bRaw),
    showSymbol:false, silent:true, z:2, lineStyle:{color:BLUE_RAW, width:1}, itemStyle:{color:BLUE_RAW}});
  option.series.push({name:'OLMoE-7B-SeeDNorm raw', type:'line', xAxisIndex:i, yAxisIndex:i, data:pairs(tokensRaw,rRaw),
    showSymbol:false, silent:true, z:3, lineStyle:{color:RED_RAW, width:1}, itemStyle:{color:RED_RAW}});
  option.series.push({name:seriesNames[0], type:'line', xAxisIndex:i, yAxisIndex:i, data:pairs(tokensSmooth,bSm),
    showSymbol:false, silent:true, z:4, lineStyle:{color:BLUE, width:1.6}, itemStyle:{color:BLUE}});
  option.series.push({name:seriesNames[1], type:'line', xAxisIndex:i, yAxisIndex:i, data:pairs(tokensSmooth,rSm),
    showSymbol:false, silent:true, z:5, lineStyle:{color:RED, width:1.6}, itemStyle:{color:RED}});

  const g = gapNotes[i];
  if (g){
    const [x0, b, rr, ratio, gapTxt] = g;
    option.series.push({name:'note'+i, type:'line', xAxisIndex:i, yAxisIndex:i, data:[[1000,b]], showSymbol:false,
      lineStyle:{opacity:0}, silent:true, z:6,
      markLine:{silent:true, symbol:['arrow','arrow'], symbolSize:5, label:{show:false}, animation:false,
        lineStyle:{color:'#808080', width:1, type:'solid'},
        data:[[{coord:[x0,b]},{coord:[1000,b]}],[{coord:[1000,b]},{coord:[1000,rr]}]]},
      markPoint:{silent:true, symbol:'circle', symbolSize:0, animation:false,
        label:{show:true, fontSize:6, fontWeight:'bold', color:'#000', fontFamily:FONT},
        data:[{coord:[(x0+1000)/2,b], label:{formatter:ratio, position:'top', distance:1}},
              {coord:[1000,(b+rr)/2], label:{formatter:gapTxt, position:'inside'}}]}});
  }
}

const chart = echarts.init(document.getElementById('c'), null, {renderer:'canvas'});
chart.setOption(option);
</script>
</body></html>
